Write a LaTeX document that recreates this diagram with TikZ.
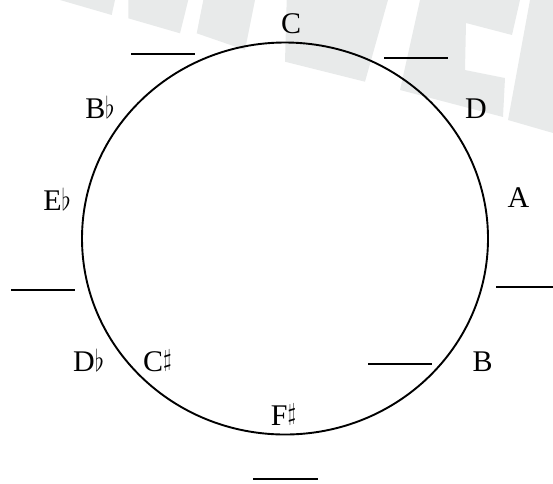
\RequirePackage{fix-cm}
\documentclass[tikz,border=0pt]{standalone}
\usepackage{fontspec}
\usepackage{graphicx}
\usetikzlibrary{shapes.geometric}
\setmainfont{Liberation Serif}
\definecolor{wm}{RGB}{232,234,234}
\newcommand\myflat{\scalebox{0.8}[1.0]{$\flat$}}
\newcommand\mysharp{\raisebox{4.5pt}{\scalebox{0.75}[0.8]{$\sharp$}}}
\begin{document}
\begin{tikzpicture}[x=1pt,y=-1pt,
  note/.style={anchor=base,inner sep=0pt,font=\fontsize{30}{36}\selectfont},
  blank/.style={line width=1.3pt},
  ring/.style={line width=1.9pt}]
\useasboundingbox (0,0) rectangle (553,483);
% watermark
\fill[wm] (60,0) -- (111.7,15) -- (115,0) -- cycle;
\fill[wm] (128.3,0) -- (128.3,18.3) -- (180,33.3) -- (188.3,0) -- cycle;
\fill[wm] (203.3,0) -- (196.7,33.3) -- (245,50) -- (255,0) -- cycle;
\fill[wm] (286.7,0) -- (285,61.7) -- (365,81.7) -- (388,0) -- cycle;
\fill[wm] (420,0) -- (400,90) -- (503,117) -- (505,78) -- (465,70) -- (466,23) -- (512,35) -- (520,0) -- cycle;
\fill[wm] (530,0) -- (508,120) -- (553,133) -- (553,0) -- cycle;
% circle
\node[ring,draw,ellipse,minimum width=406pt,minimum height=392pt,inner sep=0pt] (circ) at (285,238.5) {};
% labels
\node[note] (c) at (291,33) {C};
\node[note] (bb) at (100,118) {B\myflat};
\node[note] (d) at (476,118) {D};
\node[note] (eb) at (57,210) {E\myflat};
\node[note] (a) at (518.5,207) {A};
\node[note] (db) at (88.5,371) {D\myflat};
\node[note] (cs) at (157.5,371) {C\mysharp};
\node[note] (b) at (482.5,371.5) {B};
\node[note] (fs) at (283.5,425) {F\mysharp};
% blanks
\coordinate (l1a) at (131,54); \coordinate (l1b) at (195,54);
\coordinate (l2a) at (384,58); \coordinate (l2b) at (448,58);
\coordinate (l3a) at (11,290); \coordinate (l3b) at (75,290);
\coordinate (l4a) at (496,287); \coordinate (l4b) at (553,287);
\coordinate (l5a) at (368,364); \coordinate (l5b) at (432,364);
\coordinate (l6a) at (253,479); \coordinate (l6b) at (318,479);
\draw[blank] (l1a) -- (l1b);
\draw[blank] (l2a) -- (l2b);
\draw[blank] (l3a) -- (l3b);
\draw[blank] (l4a) -- (l4b);
\draw[blank] (l5a) -- (l5b);
\draw[blank] (l6a) -- (l6b);
\end{tikzpicture}
\end{document}
